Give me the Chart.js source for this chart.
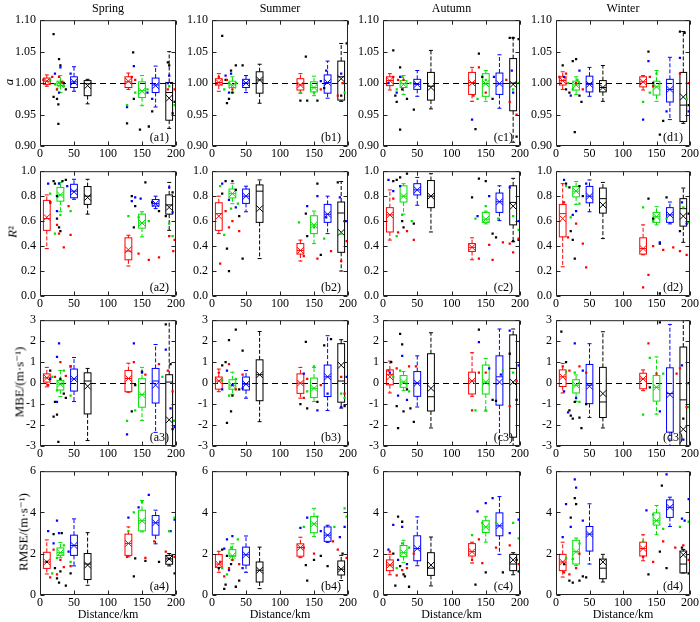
<!DOCTYPE html>
<html>
<head>
<meta charset="utf-8">
<script src="https://cdn.jsdelivr.net/npm/chart.js@4.4.1/dist/chart.umd.min.js"></script>
<style>
  html, body { margin: 0; padding: 0; background: #fff; }
  #wrap {
    position: relative; width: 700px; height: 622px; overflow: hidden; background: #fff;
    font-family: "Liberation Serif", "DejaVu Serif", serif; color: #000;
  }
  #wrap canvas { position: absolute; }
  .txt { position: absolute; font-size: 12px; line-height: 1; white-space: nowrap; transform: translate(-50%, -50%); }
  .ytitle { position: absolute; font-size: 13px; line-height: 1; white-space: nowrap; transform: translate(-50%, -50%) rotate(-90deg); }
</style>
</head>
<body>
<div id="wrap"></div>
<script>
// ══════════════════════════════
//  DATA
// ══════════════════════════════
const seasons = ['Spring', 'Summer', 'Autumn', 'Winter'];
const panelLetters = ['a', 'b', 'c', 'd'];
const groupDistance = [10, 30, 50, 70, 130, 150, 170, 190];
const groupColorIndex = [0, 1, 2, 3, 0, 1, 2, 3];   // 0 red, 1 green, 2 blue, 3 black
const xTicks = [0, 50, 100, 150, 200];

const aTicks = [0.90, 0.95, 1.00, 1.05, 1.10];
const aTickLabels = ['0.90', '0.95', '1.00', '1.05', '1.10'];
const r2Ticks = [0, 0.2, 0.4, 0.6, 0.8, 1.0];
const r2TickLabels = ['0.0', '0.2', '0.4', '0.6', '0.8', '1.0'];
const mbeTicks = [-3, -2, -1, 0, 1, 2, 3];
const mbeTickLabels = ['-3', '-2', '-1', '0', '1', '2', '3'];
const rmseTicks = [0, 2, 4, 6];
const rmseTickLabels = ['0', '2', '4', '6'];

// box rows: [min, q1, median, q3, max, mean] for each group (10,30,50,70,130,150,170,190 km)
const box_a1 = [[0.995,0.998,1.003,1.008,1.013,1.003],[0.985,0.996,0.999,1.003,1.012,0.998],[0.987,0.993,1.002,1.010,1.026,1.002],[0.967,0.980,0.999,1.004,1.006,0.996],
                [0.990,0.993,1.002,1.010,1.016,1.003],[0.964,0.977,0.988,1.002,1.012,0.987],[0.962,0.985,0.997,1.008,1.027,0.996],[0.928,0.941,0.985,1.001,1.050,0.976]];
const box_b1 = [[0.987,0.997,1.001,1.007,1.015,1.001],[0.985,0.993,0.997,1.003,1.010,0.996],[0.985,0.993,1.000,1.006,1.012,1.000],[0.968,0.984,1.005,1.018,1.030,1.005],
                [0.984,0.989,0.997,1.007,1.015,0.997],[0.980,0.986,0.993,1.002,1.011,0.993],[0.976,0.984,1.001,1.013,1.035,1.001],[0.971,0.973,1.010,1.035,1.063,1.007]];
const box_c1 = [[0.989,0.996,1.004,1.010,1.015,1.004],[0.982,0.993,0.999,1.004,1.012,0.998],[0.979,0.990,0.998,1.006,1.020,0.998],[0.959,0.973,0.995,1.017,1.052,0.993],
                [0.971,0.982,1.001,1.017,1.025,1.000],[0.971,0.979,0.999,1.015,1.020,0.999],[0.960,0.982,0.999,1.016,1.045,0.999],[0.906,0.956,1.000,1.039,1.072,0.998]];
const box_d1 = [[0.990,0.997,1.004,1.010,1.018,1.004],[0.982,0.989,0.997,1.003,1.010,0.997],[0.979,0.986,0.998,1.011,1.025,0.998],[0.971,0.986,0.993,1.004,1.028,0.993],
                [0.989,0.994,1.002,1.010,1.012,1.002],[0.971,0.981,0.994,1.003,1.020,0.994],[0.942,0.970,0.990,1.006,1.041,0.990],[0.936,0.939,0.965,1.017,1.082,0.978]];

const box_a2 = [[0.38,0.526,0.62,0.766,0.81,0.63],[0.675,0.76,0.81,0.87,0.91,0.81],[0.775,0.787,0.84,0.895,0.935,0.835],[0.656,0.734,0.80,0.877,0.935,0.79],
                [0.24,0.29,0.36,0.466,0.487,0.37],[0.474,0.544,0.585,0.656,0.675,0.585],[0.70,0.721,0.74,0.773,0.80,0.74],[0.526,0.656,0.73,0.81,0.91,0.71]];
const box_b2 = [[0.50,0.526,0.66,0.747,0.80,0.64],[0.74,0.786,0.82,0.857,0.90,0.82],[0.675,0.742,0.80,0.857,0.88,0.80],[0.30,0.59,0.84,0.89,0.93,0.70],
                [0.28,0.336,0.365,0.42,0.448,0.365],[0.42,0.50,0.57,0.643,0.68,0.57],[0.50,0.59,0.655,0.734,0.80,0.655],[0.20,0.35,0.665,0.753,0.917,0.51]];
const box_c2 = [[0.448,0.513,0.65,0.708,0.85,0.65],[0.656,0.753,0.80,0.883,0.90,0.80],[0.727,0.81,0.85,0.90,0.95,0.85],[0.513,0.708,0.80,0.925,0.98,0.80],
                [0.29,0.357,0.39,0.42,0.466,0.39],[0.578,0.59,0.615,0.67,0.68,0.615],[0.604,0.67,0.755,0.825,0.883,0.755],[0.435,0.57,0.75,0.883,0.943,0.72]];
const box_d2 = [[0.234,0.474,0.66,0.734,0.90,0.62],[0.734,0.794,0.84,0.878,0.917,0.84],[0.675,0.747,0.80,0.878,0.93,0.80],[0.46,0.664,0.78,0.865,0.91,0.73],
                [0.33,0.336,0.38,0.466,0.57,0.38],[0.57,0.59,0.635,0.67,0.716,0.635],[0.578,0.59,0.65,0.708,0.753,0.65],[0.43,0.56,0.70,0.78,0.865,0.64]];

const box_a3 = [[-0.18,0.05,0.25,0.44,0.75,0.25],[-0.64,-0.33,-0.05,0.13,0.60,-0.05],[-0.88,-0.38,0.20,0.67,1.22,0.20],[-2.74,-1.47,0.10,0.49,0.70,-0.15],
                [-0.44,-0.41,0.22,0.60,0.95,0.22],[-1.78,-1.15,-0.55,0.21,0.75,-0.55],[-2.35,-0.95,0.10,0.70,1.84,-0.10],[-3.5,-3.2,0.05,0.40,3.2,-1.75]];
const box_b3 = [[-0.41,-0.29,0.10,0.29,0.67,0.10],[-0.53,-0.29,-0.10,0.16,0.52,-0.10],[-0.72,-0.33,-0.05,0.29,0.60,-0.05],[-1.84,-0.84,0.40,1.11,2.46,0.40],
                [-0.72,-0.49,0.00,0.44,0.75,0.00],[-0.88,-0.69,-0.25,0.24,0.75,-0.25],[-1.31,-0.64,0.30,0.86,2.26,0.30],[-1.19,-0.91,0.10,1.88,2.07,0.85]];
const box_c3 = [[-0.47,-0.08,0.40,0.63,1.05,0.30],[-0.36,-0.20,0.05,0.36,0.55,0.05],[-1.14,-0.63,0.00,0.55,1.30,0.00],[-2.14,-1.33,-0.65,1.40,2.40,-0.25],
                [-0.63,-0.52,0.10,0.52,1.45,0.10],[-1.33,-0.52,0.05,0.86,1.17,0.05],[-3.2,-1.05,0.30,1.30,2.58,0.05],[-3.2,-2.58,0.70,2.30,2.58,0.05]];
const box_d3 = [[-0.47,-0.16,0.30,0.63,0.94,0.30],[-0.89,-0.47,-0.10,0.16,0.39,-0.10],[-1.64,-0.98,-0.10,0.89,1.88,-0.15],[-2.14,-1.64,-0.90,0.75,2.45,-0.50],
                [-0.36,-0.27,0.20,0.47,0.63,0.20],[-1.48,-0.86,-0.20,0.36,1.25,-0.20],[-3.2,-2.34,-0.50,0.73,2.80,-0.55],[-3.5,-3.2,-0.80,1.72,3.2,-2.20]];

const box_a4 = [[1.02,1.29,1.60,2.07,2.67,1.60],[1.81,1.92,2.05,2.28,2.54,2.05],[1.41,1.92,2.40,2.90,3.69,2.40],[0.47,0.75,1.50,2.01,3.02,1.45],
                [1.85,1.92,2.50,2.95,3.30,2.50],[3.06,3.11,3.60,4.11,4.58,3.60],[2.48,2.90,3.50,3.85,4.11,3.50],[1.41,1.49,1.75,1.92,2.01,1.75]];
const box_b4 = [[1.10,1.34,1.50,1.96,2.12,1.50],[1.70,1.88,1.90,2.20,2.48,1.90],[1.10,1.45,1.95,2.32,2.86,1.95],[0.31,0.63,1.20,1.60,2.32,1.20],
                [1.81,1.88,2.30,2.48,2.80,2.30],[2.83,3.02,3.45,3.80,4.20,3.45],[2.55,2.60,2.90,3.30,3.38,2.90],[0.70,0.97,1.25,1.65,1.92,1.25]];
const box_c4 = [[0.98,1.18,1.45,1.70,1.97,1.45],[1.58,1.86,2.05,2.40,2.65,2.05],[1.42,1.66,2.25,2.87,3.79,2.25],[0.44,0.95,1.30,2.05,2.81,1.45],
                [1.55,1.89,2.10,2.49,2.56,2.10],[2.56,3.03,3.30,3.60,3.79,3.30],[1.97,2.87,3.35,3.98,4.77,3.35],[0.98,1.18,1.50,1.97,2.05,1.70]];
const box_d4 = [[0.87,1.18,1.60,1.97,2.56,1.60],[1.42,1.50,2.10,2.65,2.76,2.10],[1.50,2.13,2.95,3.32,4.42,2.95],[0.63,0.79,1.30,1.74,1.97,1.60],
                [1.66,1.89,2.25,2.56,2.92,2.25],[2.92,3.39,3.60,3.98,4.34,3.60],[3.32,3.76,4.25,4.61,4.74,4.25],[1.07,1.07,1.50,2.13,2.21,1.95]];

// single stations: [distance km, value, group colour index]
const dots_a1 = [[20,1.078,3],[27,0.935,3],[27,0.966,3],[25,0.975,3],[20,0.978,3],[28,1.038,3],[30,1.028,3],[38,0.990,3],[35,1.000,3],[128,0.936,3],[137,1.049,3],[138,0.975,3],[147,0.926,3],[160,0.931,3],[165,0.955,3],[188,1.033,3],[190,1.028,3],[195,0.952,3],[198,0.970,3],
  [5,1.005,0],[18,1.010,0],[25,0.990,0],[28,1.010,0],[32,1.002,0],[135,1.010,0],[140,1.005,0],[188,0.990,0],[198,0.990,0],
  [15,1.005,1],[22,0.998,1],[25,0.990,1],[30,1.000,1],[35,0.995,1],[128,0.965,1],[140,0.985,1],[158,0.990,1],[190,0.995,1],[198,0.965,1],
  [22,1.015,2],[30,1.025,2],[28,0.985,2],[45,1.015,2],[128,0.962,2],[138,1.027,2],[158,0.985,2],[165,0.975,2],[190,1.012,2],[188,1.000,2]];
const dots_b1 = [[15,1.075,3],[22,0.968,3],[25,0.975,3],[30,0.985,3],[35,1.028,3],[45,1.028,3],[20,1.005,3],[28,1.020,3],[130,0.972,3],[138,1.042,3],[140,0.972,3],[155,0.972,3],[165,0.992,3],[190,0.980,3],[198,1.063,3],
  [10,1.010,0],[22,1.005,0],[30,0.990,0],[160,0.990,0],[185,0.980,0],[192,1.000,0],
  [18,0.990,1],[25,1.000,1],[35,1.000,1],[150,0.985,1],[195,0.985,1],[130,0.985,1],
  [20,1.012,2],[28,1.015,2],[25,0.985,2],[168,1.020,2],[190,1.015,2],[160,1.003,2]];
const dots_c1 = [[15,1.052,3],[18,0.980,3],[20,0.970,3],[25,0.926,3],[25,1.025,3],[28,0.990,3],[35,0.975,3],[45,0.958,3],[135,0.927,3],[140,1.047,3],[145,1.010,3],[160,0.975,3],[185,1.072,3],[190,1.072,3],[198,1.070,3],[195,0.915,3],
  [15,1.010,0],[22,1.005,0],[30,1.005,0],[140,1.025,0],[132,0.980,0],[150,0.985,0],[180,1.005,0],[185,0.970,0],[195,0.950,0],
  [20,0.990,1],[28,1.010,1],[40,1.000,1],[138,0.975,1],[150,1.005,1],[190,0.990,1],[198,1.000,1],
  [8,1.000,2],[20,0.985,2],[25,1.010,2],[130,0.942,2],[162,1.010,2],[188,1.020,2],[190,0.985,2]];
const dots_d1 = [[10,1.028,3],[20,0.985,3],[25,1.035,3],[28,0.922,3],[30,1.038,3],[35,0.980,3],[38,0.970,3],[15,0.990,3],[138,1.050,3],[145,1.000,3],[155,0.918,3],[160,0.940,3],[185,1.082,3],[192,1.080,3],[198,0.965,3],
  [5,1.010,0],[15,1.015,0],[30,1.000,0],[40,0.990,0],[140,1.010,0],[145,0.995,0],[185,1.015,0],[198,1.000,0],
  [18,1.000,1],[25,0.990,1],[32,1.005,1],[130,0.970,1],[140,0.985,1],[150,1.015,1],[195,0.975,1],
  [12,1.010,2],[22,0.980,2],[35,1.020,2],[130,0.942,2],[138,1.035,2],[165,0.955,2],[185,1.040,2],[198,0.955,2]];

const dots_a2 = [[15,0.75,3],[20,0.92,3],[22,0.90,3],[25,0.80,3],[28,0.55,3],[30,0.52,3],[33,0.92,3],[38,0.93,3],[25,0.62,3],[135,0.80,3],[140,0.72,3],[138,0.55,3],[155,0.91,3],[165,0.75,3],[175,0.68,3],[185,0.64,3],[195,0.83,3],
  [15,0.75,0],[25,0.57,0],[28,0.50,0],[35,0.39,0],[45,0.49,0],[42,0.72,0],[190,0.48,0],[198,0.45,0],[175,0.31,0],[160,0.29,0],[145,0.34,0],[196,0.36,0],
  [15,0.82,1],[22,0.50,1],[30,0.65,1],[45,0.68,1],[130,0.64,1],[145,0.63,1],[160,0.60,1],[190,0.58,1],[195,0.48,1],
  [12,0.90,2],[25,0.68,2],[28,0.90,2],[40,0.88,2],[135,0.76,2],[140,0.79,2],[148,0.78,2],[190,0.87,2],[195,0.67,2]];
const dots_b2 = [[15,0.82,3],[20,0.92,3],[22,0.38,3],[25,0.20,3],[30,0.92,3],[35,0.85,3],[40,0.64,3],[45,0.30,3],[138,0.66,3],[140,0.48,3],[155,0.90,3],[160,0.33,3],[185,0.91,3],[195,0.60,3],
  [12,0.26,0],[20,0.68,0],[25,0.55,0],[30,0.60,0],[40,0.52,0],[135,0.32,0],[155,0.30,0],[175,0.36,0],[190,0.28,0],[198,0.44,0],
  [12,0.88,1],[18,0.49,1],[28,0.70,1],[38,0.74,1],[128,0.59,1],[150,0.55,1],[165,0.46,1],[190,0.50,1],
  [15,0.90,2],[25,0.77,2],[35,0.71,2],[140,0.72,2],[155,0.80,2],[168,0.63,2],[188,0.79,2],[198,0.60,2]];
const dots_c2 = [[15,0.92,3],[20,0.93,3],[25,0.95,3],[28,0.60,3],[30,0.55,3],[35,0.98,3],[45,0.58,3],[130,0.79,3],[140,0.94,3],[150,0.92,3],[160,0.50,3],[165,0.47,3],[190,0.44,3],[198,0.45,3],
  [15,0.78,0],[22,0.51,0],[35,0.52,0],[45,0.45,0],[140,0.30,0],[155,0.41,0],[160,0.29,0],[175,0.43,0],[190,0.35,0],[198,0.46,0],[185,0.42,0],
  [20,0.48,1],[28,0.65,1],[42,0.60,1],[135,0.62,1],[150,0.72,1],[168,0.62,1],[190,0.64,1],[198,0.53,1],
  [8,0.93,2],[15,0.84,2],[25,0.88,2],[138,0.64,2],[155,0.80,2],[185,0.87,2],[198,0.60,2]];
const dots_d2 = [[15,0.90,3],[20,0.87,3],[22,0.52,3],[25,0.45,3],[28,0.30,3],[35,0.88,3],[40,0.80,3],[138,0.78,3],[145,0.62,3],[155,0.42,3],[155,0.02,3],[165,0.79,3],[185,0.52,3],[198,0.66,3],
  [12,0.75,0],[18,0.47,0],[30,0.58,0],[40,0.42,0],[45,0.23,0],[130,0.07,0],[138,0.17,0],[145,0.40,0],[160,0.37,0],[175,0.39,0],[185,0.36,0],[195,0.33,0],
  [15,0.88,1],[22,0.63,1],[35,0.74,1],[130,0.71,1],[145,0.60,1],[165,0.62,1],[190,0.71,1],[198,0.59,1],
  [12,0.93,2],[25,0.65,2],[30,0.68,2],[45,0.90,2],[155,0.43,2],[188,0.75,2],[195,0.58,2]];

const dots_a3 = [[15,0.60,3],[20,-1.60,3],[25,-1.50,3],[27,-2.80,3],[30,0.20,3],[35,-0.50,3],[22,-0.90,3],[38,-0.70,3],[135,-1.35,3],[140,-0.10,3],[150,0.55,3],[185,2.80,3],[192,0.90,3],[198,-1.80,3],[195,-2.20,3],
  [12,-0.10,0],[22,0.30,0],[30,1.00,0],[38,0.35,0],[45,0.80,0],[138,1.00,0],[155,0.40,0],[175,0.90,0],[188,0.60,0],[195,-0.40,0],
  [18,0.30,1],[25,-0.35,1],[35,0.60,1],[45,-0.60,1],[128,-1.80,1],[140,-1.30,1],[180,0.30,1],[198,-1.80,1],
  [15,0.20,2],[25,1.25,2],[28,1.90,2],[25,-0.90,2],[45,0.80,2],[128,-2.45,2],[138,1.90,2],[150,0.50,2],[185,1.60,2],[192,-1.20,2],[198,-2.10,2]];
const dots_b3 = [[15,0.85,3],[20,1.00,3],[22,-1.90,3],[25,2.05,3],[28,-1.35,3],[30,-0.60,3],[35,2.55,3],[45,1.55,3],[40,-0.30,3],[130,-1.00,3],[138,1.97,3],[140,-1.20,3],[155,-0.90,3],[165,1.80,3],[175,2.10,3],[195,-1.10,3],
  [10,0.50,0],[25,0.90,0],[35,-0.30,0],[45,0.40,0],[135,-0.70,0],[140,0.20,0],[160,-0.10,0],[190,0.30,0],[195,-0.50,0],
  [15,0.15,1],[25,-0.60,1],[35,0.20,1],[140,-0.40,1],[150,0.80,1],[195,-0.70,1],[190,-0.50,1],
  [15,-0.30,2],[22,0.60,2],[30,-0.10,2],[45,-0.25,2],[135,0.45,2],[155,-1.30,2],[170,-0.50,2],[190,-1.15,2],[198,0.30,2]];
const dots_c3 = [[12,1.00,3],[20,-1.10,3],[22,-2.15,3],[25,2.35,3],[28,1.85,3],[30,-1.35,3],[35,-0.30,3],[40,-1.20,3],[45,-1.85,3],[140,2.55,3],[160,-0.80,3],[165,-0.85,3],[185,1.40,3],[195,-0.80,3],
  [8,0.60,0],[20,0.70,0],[38,0.80,0],[48,0.80,0],[140,0.50,0],[130,-1.30,0],[150,0.50,0],[185,-1.10,0],[195,0.10,0],
  [15,0.30,1],[25,0.60,1],[38,-0.40,1],[135,-1.30,1],[150,-1.30,1],[175,0.60,1],[190,0.50,1],
  [10,0.50,2],[22,-0.60,2],[28,1.30,2],[35,-0.80,2],[140,1.95,2],[155,0.70,2],[172,0.40,2],[185,2.50,2],[198,0.85,2]];
const dots_d3 = [[8,2.45,3],[15,1.00,3],[20,-1.30,3],[22,-1.55,3],[25,-1.70,3],[28,-0.90,3],[35,-1.65,3],[38,-2.15,3],[45,-1.00,3],[155,2.90,3],[140,-0.20,3],[190,-1.70,3],[198,0.00,3],
  [10,0.80,0],[20,0.60,0],[35,0.80,0],[45,0.50,0],[138,1.90,0],[150,0.45,0],[180,0.45,0],[185,0.70,0],[195,-1.15,0],
  [15,0.55,1],[28,0.50,1],[35,-0.90,1],[130,-1.50,1],[140,1.20,1],[160,0.45,1],[198,-1.15,1],
  [12,-0.40,2],[18,-1.40,2],[28,1.90,2],[30,-0.70,2],[40,0.60,2],[155,-1.35,2],[188,0.85,2],[190,-2.70,2]];

const dots_a4 = [[10,1.60,3],[20,2.95,3],[22,1.30,3],[25,0.80,3],[28,0.60,3],[30,1.15,3],[32,3.00,3],[38,0.45,3],[45,1.05,3],[140,1.78,3],[138,0.90,3],[155,1.65,3],[175,1.60,3],[190,1.75,3],[198,1.05,3],
  [15,0.85,0],[20,2.20,0],[25,1.00,0],[30,1.70,0],[35,1.35,0],[45,1.40,0],[128,1.85,0],[155,1.80,0],[168,2.60,0],[185,2.10,0],[198,1.85,0],
  [18,1.05,1],[25,1.80,1],[35,2.40,1],[45,1.60,1],[130,3.10,1],[138,4.00,1],[150,4.50,1],[190,3.10,1],[198,3.75,1],
  [12,3.10,2],[20,2.50,2],[25,3.60,2],[28,3.00,2],[42,2.10,2],[130,3.75,2],[145,4.25,2],[160,4.85,2],[192,3.10,2],[198,3.65,2]];
const dots_b4 = [[10,1.30,3],[15,2.20,3],[18,0.30,3],[20,0.50,3],[22,1.90,3],[28,1.50,3],[35,0.40,3],[40,0.70,3],[140,0.70,3],[138,1.45,3],[150,1.70,3],[160,1.90,3],[170,1.40,3],[192,2.00,3],
  [12,1.60,0],[18,0.90,0],[25,1.30,0],[30,1.70,0],[40,1.50,0],[135,2.30,0],[150,2.00,0],[178,2.60,0],[185,2.20,0],[198,1.80,0],
  [15,1.30,1],[22,1.00,1],[28,2.30,1],[38,2.70,1],[135,3.30,1],[155,3.80,1],[180,3.30,1],[195,4.20,1],[198,3.80,1],
  [18,2.25,2],[22,2.70,2],[25,1.20,2],[30,2.85,2],[45,1.30,2],[130,3.25,2],[140,3.75,2],[160,3.10,2],[188,2.80,2],[195,3.30,2]];
const dots_c4 = [[15,2.00,3],[18,0.45,3],[22,3.80,3],[25,1.40,3],[28,3.55,3],[30,1.00,3],[32,0.90,3],[38,0.40,3],[135,0.50,3],[150,1.10,3],[175,1.10,3],[195,1.70,3],[198,1.15,3],
  [10,2.10,0],[20,0.95,0],[28,1.20,0],[35,1.30,0],[45,2.00,0],[130,1.70,0],[140,2.70,0],[145,1.55,0],[165,2.30,0],[185,2.40,0],[198,1.50,0],
  [20,1.30,1],[28,2.50,1],[38,2.30,1],[130,2.90,1],[145,3.50,1],[165,3.50,1],[190,3.50,1],[198,2.75,1],
  [8,2.20,2],[15,3.40,2],[22,1.70,2],[28,3.30,2],[35,1.50,2],[138,4.05,2],[150,4.45,2],[160,4.70,2],[185,3.00,2],[198,3.65,2]];
const dots_d4 = [[12,1.50,3],[20,0.70,3],[22,3.75,3],[25,0.60,3],[28,4.70,3],[30,4.40,3],[35,0.70,3],[40,0.90,3],[45,0.85,3],[138,1.00,3],[155,2.10,3],[158,5.30,3],[165,1.30,3],[188,2.30,3],[198,1.05,3],
  [12,1.10,0],[20,1.00,0],[30,1.30,0],[35,2.00,0],[130,1.85,0],[145,1.60,0],[160,2.60,0],[178,2.30,0],[190,2.40,0],[198,1.70,0],
  [15,1.80,1],[25,1.75,1],[35,2.50,1],[130,2.60,1],[145,3.90,1],[160,3.20,1],[185,3.30,1],[198,3.55,1],
  [10,2.80,2],[15,4.40,2],[22,3.30,2],[28,5.60,2],[30,5.20,2],[40,3.60,2],[135,4.10,2],[165,5.85,2],[188,3.70,2],[192,3.60,2],[198,4.65,2]];

// ══════════════════════════════
//  LAYOUT / STYLE
// ══════════════════════════════
const groupColors = ['rgb(255,0,0)', 'rgb(0,225,0)', 'rgb(0,0,255)', 'rgb(0,0,0)'];
const plotLeft = [40, 212, 383, 556];
const plotWidth = [136, 136, 137, 134];
const plotTop = [17, 168, 317, 468];
const plotHeight = [129, 128, 129, 127];
const boxHalfWidth = 5;        // km
const FONT = '"Liberation Serif", "DejaVu Serif", serif';

const rows = [
  { ticks: aTicks, labels: aTickLabels, min: 0.90, max: 1.10, ref: 1, title: '<i>a</i>', titleX: 8,
    boxes: [box_a1, box_b1, box_c1, box_d1], dots: [dots_a1, dots_b1, dots_c1, dots_d1] },
  { ticks: r2Ticks, labels: r2TickLabels, min: 0, max: 1, ref: null, title: '<i>R</i>²', titleX: 12,
    boxes: [box_a2, box_b2, box_c2, box_d2], dots: [dots_a2, dots_b2, dots_c2, dots_d2] },
  { ticks: mbeTicks, labels: mbeTickLabels, min: -3, max: 3, ref: 0, title: 'MBE/(m·s⁻¹)', titleX: 18.5,
    boxes: [box_a3, box_b3, box_c3, box_d3], dots: [dots_a3, dots_b3, dots_c3, dots_d3] },
  { ticks: rmseTicks, labels: rmseTickLabels, min: 0, max: 6, ref: null, title: 'RMSE/(m·s⁻¹)', titleX: 22.5,
    boxes: [box_a4, box_b4, box_c4, box_d4], dots: [dots_a4, dots_b4, dots_c4, dots_d4] },
];

const wrap = document.getElementById('wrap');

function addText(html, x, y, cls) {
  const el = document.createElement('div');
  el.className = cls || 'txt';
  el.innerHTML = html;
  el.style.left = x + 'px';
  el.style.top = y + 'px';
  wrap.appendChild(el);
}

// Plugin: box plots, reference line, frame with inward ticks, panel tag
function makePanelPlugin(boxes, ref, tag) {
  return {
    id: 'panelDecor',
    beforeDatasetsDraw(chart) {
      const { ctx, chartArea: ca } = chart;
      const x = chart.scales.x, y = chart.scales.y;
      ctx.save();
      ctx.beginPath();
      ctx.rect(ca.left, ca.top, ca.right - ca.left, ca.bottom - ca.top);
      ctx.clip();
      if (ref !== null) {
        const py = Math.round(y.getPixelForValue(ref)) + 0.5;
        ctx.strokeStyle = '#000';
        ctx.lineWidth = 1;
        ctx.setLineDash([6, 4]);
        ctx.beginPath();
        ctx.moveTo(ca.left, py);
        ctx.lineTo(ca.right, py);
        ctx.stroke();
      }
      boxes.forEach((b, i) => {
        const [mn, q1, md, q3, mx] = b;
        const col = groupColors[groupColorIndex[i]];
        const cx = x.getPixelForValue(groupDistance[i]);
        const hw = x.getPixelForValue(groupDistance[i] + boxHalfWidth) - cx;
        const pMin = y.getPixelForValue(mn), pQ1 = y.getPixelForValue(q1);
        const pMd = y.getPixelForValue(md), pQ3 = y.getPixelForValue(q3);
        const pMax = y.getPixelForValue(mx);
        ctx.strokeStyle = col;
        ctx.lineWidth = 1;
        // whiskers
        ctx.setLineDash([4, 2]);
        ctx.beginPath();
        ctx.moveTo(cx, pQ3); ctx.lineTo(cx, pMax);
        ctx.moveTo(cx, pQ1); ctx.lineTo(cx, pMin);
        ctx.stroke();
        ctx.setLineDash([]);
        ctx.beginPath();
        ctx.moveTo(cx - 2, pMax); ctx.lineTo(cx + 2, pMax);
        ctx.moveTo(cx - 2, pMin); ctx.lineTo(cx + 2, pMin);
        ctx.stroke();
        // box + median
        ctx.strokeRect(cx - hw, pQ3, 2 * hw, pQ1 - pQ3);
        ctx.beginPath();
        ctx.moveTo(cx - hw, pMd); ctx.lineTo(cx + hw, pMd);
        ctx.stroke();
      });
      ctx.restore();
    },
    afterDatasetsDraw(chart) {
      const { ctx, chartArea: ca } = chart;
      const x = chart.scales.x, y = chart.scales.y;
      const L = ca.left + 0.5, R = ca.right - 0.5, T = ca.top + 0.5, B = ca.bottom - 0.5;
      ctx.save();
      ctx.strokeStyle = '#222';
      ctx.lineWidth = 1;
      ctx.beginPath();
      ctx.rect(L, T, R - L, B - T);
      x.ticks.forEach(t => {
        const px = Math.round(x.getPixelForValue(t.value)) + 0.5;
        ctx.moveTo(px, B); ctx.lineTo(px, B - 4);
        ctx.moveTo(px, T); ctx.lineTo(px, T + 4);
      });
      y.ticks.forEach(t => {
        const py = Math.round(y.getPixelForValue(t.value)) + 0.5;
        ctx.moveTo(L, py); ctx.lineTo(L + 4, py);
        ctx.moveTo(R, py); ctx.lineTo(R - 4, py);
      });
      ctx.stroke();
      ctx.fillStyle = '#000';
      ctx.font = '12px ' + FONT;
      ctx.textAlign = 'right';
      ctx.textBaseline = 'alphabetic';
      ctx.fillText(tag, ca.right - 7, ca.bottom - 5);
      ctx.restore();
    }
  };
}

// ══════════════════════════════
//  PANELS
// ══════════════════════════════
const PAD_T = 8, PAD_R = 14, Y_W = 40, X_H = 16;

rows.forEach((row, r) => {
  for (let c = 0; c < 4; c++) {
    const canvas = document.createElement('canvas');
    const w = plotWidth[c] + Y_W + PAD_R;
    const h = plotHeight[r] + PAD_T + X_H;
    canvas.width = w;
    canvas.height = h;
    canvas.style.left = (plotLeft[c] - Y_W) + 'px';
    canvas.style.top = (plotTop[r] - PAD_T) + 'px';
    wrap.appendChild(canvas);

    const boxes = row.boxes[c];
    const dots = row.dots[c];
    const datasets = [];
    for (let g = 0; g < 4; g++) {
      datasets.push({
        data: dots.filter(d => d[2] === g).map(d => ({ x: d[0], y: d[1] })),
        pointStyle: 'rect',
        pointRadius: 1.6,
        pointBackgroundColor: groupColors[g],
        pointBorderWidth: 0,
        showLine: false,
      });
    }
    for (let g = 0; g < 4; g++) {
      const means = [];
      boxes.forEach((b, i) => {
        if (groupColorIndex[i] === g) means.push({ x: groupDistance[i], y: b[5] });
      });
      datasets.push({
        data: means,
        pointStyle: 'crossRot',
        pointRadius: 4.6,
        pointBorderColor: groupColors[g],
        pointBorderWidth: 1,
        showLine: false,
      });
    }

    new Chart(canvas, {
      type: 'scatter',
      data: { datasets },
      plugins: [makePanelPlugin(boxes, row.ref, '(' + panelLetters[c] + (r + 1) + ')')],
      options: {
        animation: false,
        responsive: false,
        maintainAspectRatio: false,
        events: [],
        layout: { padding: { left: 0, top: PAD_T, right: PAD_R, bottom: 0 } },
        plugins: { legend: { display: false }, tooltip: { enabled: false } },
        scales: {
          x: {
            type: 'linear', min: 0, max: 200,
            grid: { display: false, drawTicks: false }, border: { display: false },
            ticks: { color: '#000', font: { family: FONT, size: 12 }, padding: 1, maxRotation: 0 },
            afterBuildTicks: (ax) => { ax.ticks = xTicks.map(v => ({ value: v })); },
            afterFit: (ax) => { ax.height = X_H; },
          },
          y: {
            type: 'linear', min: row.min, max: row.max,
            grid: { display: false, drawTicks: false }, border: { display: false },
            ticks: {
              color: '#000', font: { family: FONT, size: 12 }, padding: 4,
              callback: (v, i) => row.labels[i],
            },
            afterBuildTicks: (ax) => { ax.ticks = row.ticks.map(v => ({ value: v })); },
            afterFit: (ax) => { ax.width = Y_W; },
          },
        },
      },
    });
  }
  addText(row.title, row.titleX, plotTop[r] + plotHeight[r] / 2, 'ytitle');
});

seasons.forEach((s, c) => {
  addText(s, plotLeft[c] + plotWidth[c] / 2, 8);
  addText('Distance/km', plotLeft[c] + plotWidth[c] / 2, 614);
});
</script>
</body>
</html>
